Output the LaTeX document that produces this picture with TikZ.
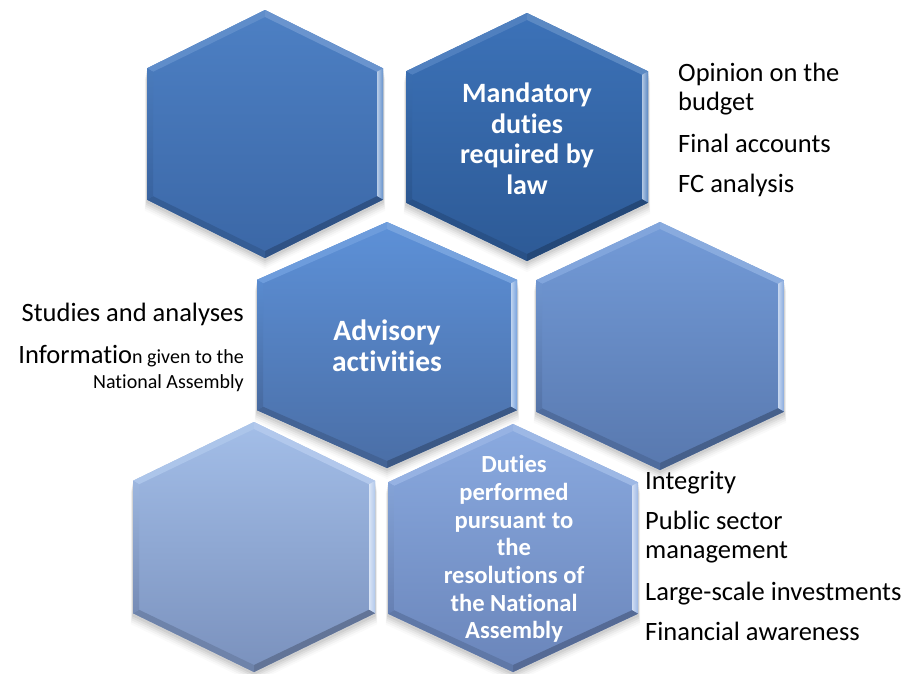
\documentclass[tikz,border=0pt]{standalone}
\usepackage{fontspec}
\setmainfont{Carlito}[Ligatures=NoCommon]
\usetikzlibrary{calc}

\definecolor{hexAtop}{HTML}{4D80C4}\definecolor{hexAbot}{HTML}{3B67A6}
\definecolor{hexBtop}{HTML}{3C72B8}\definecolor{hexBbot}{HTML}{2D5A96}
\definecolor{hexCtop}{HTML}{5D91D8}\definecolor{hexCbot}{HTML}{4A6EA6}
\definecolor{hexDtop}{HTML}{739BD8}\definecolor{hexDbot}{HTML}{5878AE}
\definecolor{hexEtop}{HTML}{A3BEE8}\definecolor{hexEbot}{HTML}{7A91BD}
\definecolor{hexFtop}{HTML}{8AAAE0}\definecolor{hexFbot}{HTML}{6A85BA}

\tikzset{
  hextext/.style={text=white, font=\bfseries, align=center, inner sep=0pt},
  sidetext/.style={text=black, inner sep=0pt, font=\fontsize{26.5}{29}\selectfont},
}

% bevelled hexagon: name, centre x, centre y, half width, half height, top colour, bottom colour
\newcommand\hexcell[7]{%
  \foreach \s/\o in {11/0.02,9/0.03,7/0.04,5/0.05,3/0.06}{%
    \fill[black,opacity=\o]
      (#2,#3-#5+\s) -- (#2+#4+0.2*\s,#3-0.53*#5+\s) -- (#2+#4+0.2*\s,#3+0.53*#5+\s) --
      (#2,#3+#5+\s) -- (#2-#4-0.2*\s,#3+0.53*#5+\s) -- (#2-#4-0.2*\s,#3-0.53*#5+\s) -- cycle;}
  \coordinate (#1-a) at (#2,#3-#5);
  \coordinate (#1-b) at (#2+#4,#3-0.53*#5);
  \coordinate (#1-c) at (#2+#4,#3+0.53*#5);
  \coordinate (#1-d) at (#2,#3+#5);
  \coordinate (#1-e) at (#2-#4,#3+0.53*#5);
  \coordinate (#1-f) at (#2-#4,#3-0.53*#5);
  \coordinate (#1-ia) at (#2,#3-#5+7);
  \coordinate (#1-ib) at (#2+#4-6,#3-0.53*#5+3.5);
  \coordinate (#1-ic) at (#2+#4-6,#3+0.53*#5-3.5);
  \coordinate (#1-id) at (#2,#3+#5-7);
  \coordinate (#1-ie) at (#2-#4+6,#3+0.53*#5-3.5);
  \coordinate (#1-if) at (#2-#4+6,#3-0.53*#5+3.5);
  \shade[top color=#6,bottom color=#7]
    (#1-a) -- (#1-b) -- (#1-c) -- (#1-d) -- (#1-e) -- (#1-f) -- cycle;
  \fill[#6!90!white] (#1-f) -- (#1-a) -- (#1-ia) -- (#1-if) -- cycle;
  \fill[#6!84!white] (#1-a) -- (#1-b) -- (#1-ib) -- (#1-ia) -- cycle;
  \shade[left color=#6!40!white, right color=#6!85!white]
    (#1-b) -- (#1-c) -- (#1-ic) -- (#1-ib) -- cycle;
  \fill[#7!80!black] (#1-c) -- (#1-d) -- (#1-id) -- (#1-ic) -- cycle;
  \fill[#7!90!black] (#1-d) -- (#1-e) -- (#1-ie) -- (#1-id) -- cycle;
  \shade[top color=#6!96!black, bottom color=#7!96!black]
    (#1-e) -- (#1-f) -- (#1-if) -- (#1-ie) -- cycle;
}

\begin{document}
\begin{tikzpicture}[x=1pt,y=-1pt]
  \fill[white] (0,0) rectangle (917,673);
  \useasboundingbox (0,0) rectangle (917,673);

  % honeycomb
  \hexcell{h1}{265}{134}{118}{124}{hexAtop}{hexAbot}
  \hexcell{h2}{527}{137}{121}{124}{hexBtop}{hexBbot}
  \hexcell{h3}{387}{345}{130}{123}{hexCtop}{hexCbot}
  \hexcell{h4}{660}{346}{124}{124}{hexDtop}{hexDbot}
  \hexcell{h5}{254}{547}{121}{125}{hexEtop}{hexEbot}
  \hexcell{h6}{513}{548}{125}{124}{hexFtop}{hexFbot}

  % captions inside the cells
  \node[hextext, font=\bfseries\fontsize{28}{30.5}\selectfont] (mandatory) at (527,139)
    {Mandatory\\duties\\required by\\law};
  \node[hextext, font=\bfseries\fontsize{29.5}{31}\selectfont] (advisory) at (387,346)
    {Advisory\\activities};
  \node[hextext, font=\bfseries\fontsize{24.6}{27.7}\selectfont] (resolutions) at (514,549)
    {Duties\\performed\\pursuant to\\the\\resolutions of\\the National\\Assembly};

  % mandatory duties
  \node[sidetext, anchor=base west, align=left] (opinion) at (678,110) {Opinion on the\\budget};
  \node[sidetext, anchor=base west] (final) at (678,152) {Final accounts};
  \node[sidetext, anchor=base west] (fc) at (678,192) {FC analysis};

  % advisory activities
  \node[sidetext, anchor=base east] (studies) at (244,321) {Studies and analyses};
  \node[sidetext, anchor=base east] (info) at (244,363)
    {Informatio{\fontsize{20}{22}\selectfont n given to the}};
  \node[sidetext, anchor=base east, font=\fontsize{20}{22}\selectfont] (assembly) at (244,388)
    {National Assembly};

  % duties on resolutions
  \node[sidetext, anchor=base west] (integrity) at (645,489) {Integrity};
  \node[sidetext, anchor=base west, align=left] (public) at (645,558) {Public sector\\management};
  \node[sidetext, anchor=base west] (large) at (645,600) {Large-scale investments};
  \node[sidetext, anchor=base west] (awareness) at (645,640) {Financial awareness};
\end{tikzpicture}
\end{document}
